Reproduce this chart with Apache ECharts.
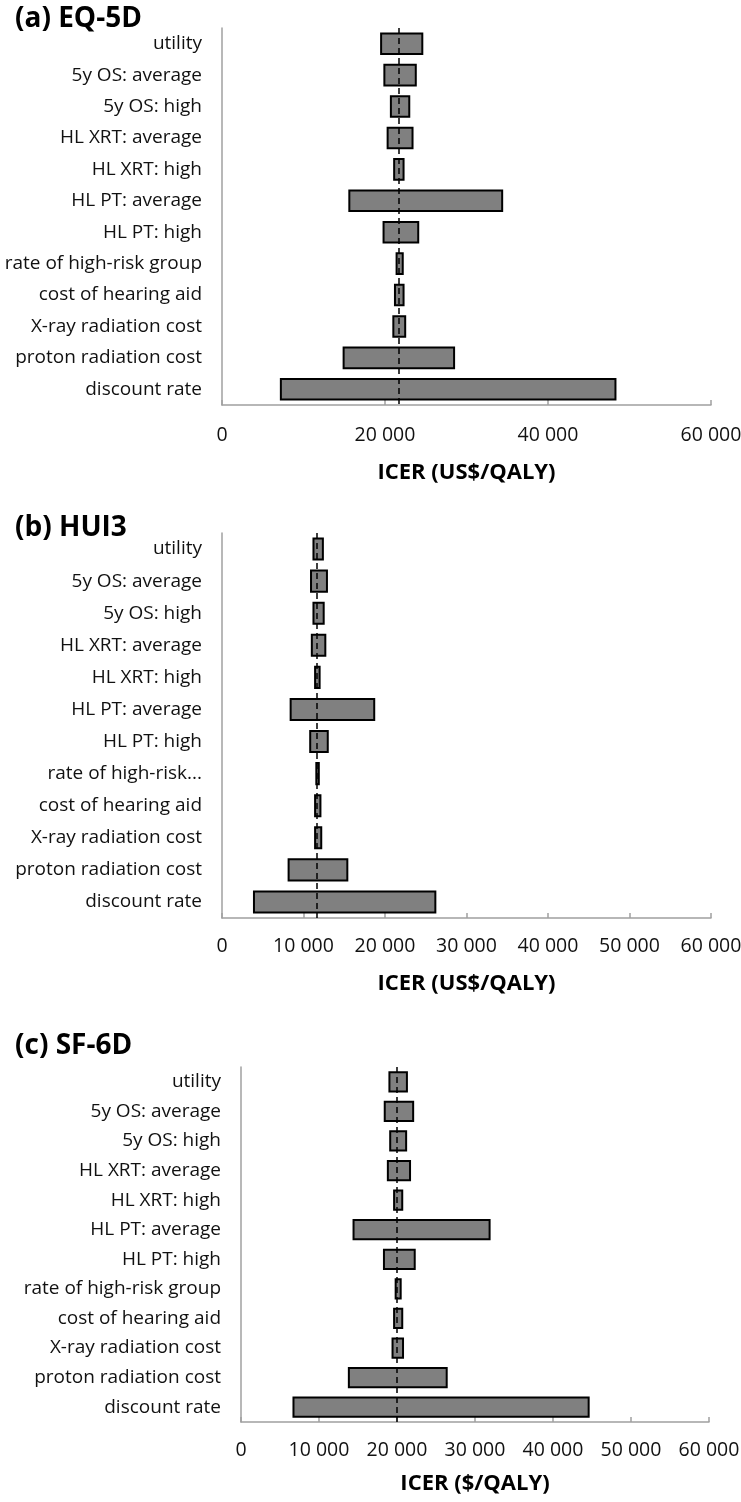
<!DOCTYPE html>
<html>
<head>
<meta charset="utf-8">
<script src="https://cdn.jsdelivr.net/npm/echarts@6/dist/echarts.min.js"></script>
<style>
html,body{margin:0;padding:0;background:#fff;}
#chart{width:741px;height:1502px;}
</style>
</head>
<body>
<div id="chart"></div>
<script>
// ---- data ----
var categoriesFull = ["utility","5y OS: average","5y OS: high","HL XRT: average","HL XRT: high","HL PT: average","HL PT: high","rate of high-risk group","cost of hearing aid","X-ray radiation cost","proton radiation cost","discount rate"];
var categoriesB = ["utility","5y OS: average","5y OS: high","HL XRT: average","HL XRT: high","HL PT: average","HL PT: high","rate of high-risk...","cost of hearing aid","X-ray radiation cost","proton radiation cost","discount rate"];

var titles = ["(a) EQ-5D","(b) HUI3","(c) SF-6D"];
var axisNames = ["ICER (US$/QALY)","ICER (US$/QALY)","ICER ($/QALY)"];
var tickIntervals = [20000, 10000, 10000];

var baseA = 21700;
var lowA  = [19400,19800,20600,20200,21000,15500,19700,21300,21100,20900,14800,7100];
var highA = [24700,23900,23100,23500,22400,34500,24200,22300,22400,22600,28600,48400];

var baseB = 11650;
var lowB  = [11100,10800,11100,10900,11300,8300,10700,11450,11300,11300,8050,3800];
var highB = [12500,13000,12600,12800,12100,18800,13100,12000,12200,12300,15500,26300];

var baseC = 19950;
var lowC  = [18900,18300,19000,18700,19500,14300,18200,19700,19500,19300,13700,6600];
var highC = [21400,22200,21300,21800,20800,32000,22400,20600,20800,20900,26500,44700];

// ---- build ----
var FONT = "'Open Sans', sans-serif";
var panels = [
  {cats: categoriesFull, low: lowA, high: highA, base: baseA, grid:{left:222,right:30,top:28,height:377}, titleTop:0, labelMargin:20, nameGap:57},
  {cats: categoriesB, low: lowB, high: highB, base: baseB, grid:{left:222,right:30,top:533,height:385}, titleTop:509, labelMargin:18, nameGap:55},
  {cats: categoriesFull, low: lowC, high: highC, base: baseC, grid:{left:241,right:32,top:1067,height:355}, titleTop:1027, labelMargin:18, nameGap:51}
];

var option = {
  backgroundColor: '#fff',
  animation: false,
  title: [], grid: [], xAxis: [], yAxis: [], series: []
};

function fmt(v){ return v === 0 ? '0' : (v/1000) + ' 000'; }

panels.forEach(function(p, i){
  option.title.push({
    text: titles[i], left: 10, top: p.titleTop,
    textStyle: {fontFamily: FONT, fontWeight: 'bold', fontSize: 28, color: '#000'}
  });
  var g = Object.assign({containLabel: false, outerBoundsMode: 'none'}, p.grid);
  option.grid.push(g);
  option.xAxis.push({
    gridIndex: i, type: 'value', min: 0, max: 60000, interval: tickIntervals[i],
    name: axisNames[i], nameLocation: 'middle', nameGap: p.nameGap,
    nameTextStyle: {fontFamily: FONT, fontWeight: 'bold', fontSize: 22, color: '#000'},
    axisLine: {show: true, lineStyle: {color: '#a0a0a0', width: 1.5}},
    axisTick: {show: true, inside: true, length: 5, lineStyle: {color: '#a0a0a0', width: 1.5}},
    axisLabel: {fontFamily: FONT, fontSize: 19.5, color: '#111', margin: p.labelMargin, formatter: fmt},
    splitLine: {show: false}
  });
  option.yAxis.push({
    gridIndex: i, type: 'category', data: p.cats, inverse: true,
    axisLine: {show: true, lineStyle: {color: '#a0a0a0', width: 1.5}},
    axisTick: {show: false},
    axisLabel: {fontFamily: FONT, fontSize: 19, color: '#111', margin: 20, interval: 0}
  });
  option.series.push({
    type: 'bar', xAxisIndex: i, yAxisIndex: i, stack: 's' + i,
    data: p.low, barWidth: '72%',
    itemStyle: {color: 'rgba(0,0,0,0)', borderWidth: 0},
    silent: true
  });
  option.series.push({
    type: 'bar', xAxisIndex: i, yAxisIndex: i, stack: 's' + i,
    data: p.high.map(function(h, k){ return h - p.low[k]; }),
    barWidth: '72%',
    itemStyle: {color: '#808080', borderColor: '#000', borderWidth: 2},
    markLine: {
      silent: true, symbol: ['none','none'], label: {show: false},
      lineStyle: {color: '#000', width: 1.5, type: [6,4]},
      data: [{xAxis: p.base}]
    }
  });
});

var chart = echarts.init(document.getElementById('chart'), null, {renderer: 'canvas'});
chart.setOption(option);
</script>
</body>
</html>
